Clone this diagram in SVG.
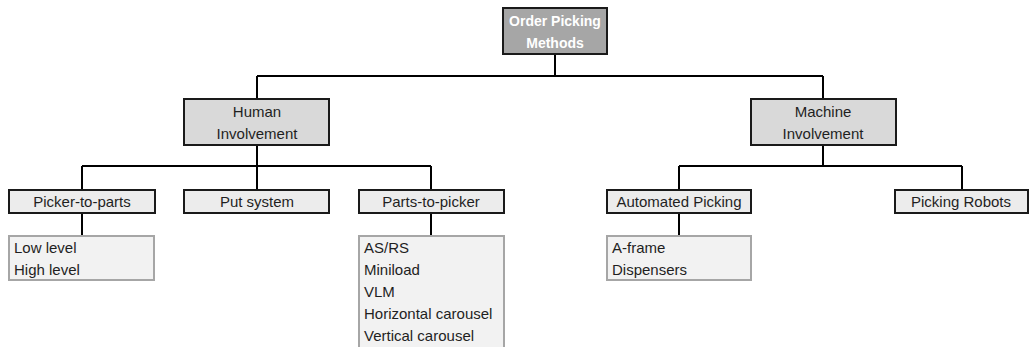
<svg xmlns="http://www.w3.org/2000/svg" width="1032" height="347" viewBox="0 0 1032 347">
<style>
.t{font-family:"Liberation Sans",Arial,sans-serif;font-size:15px;fill:#1f1f1f}
.c{text-anchor:middle}
.root{fill:#a6a6a6;stroke:#1a1a1a;stroke-width:2}
.mid{fill:#d9d9d9;stroke:#1a1a1a;stroke-width:2}
.lvl{fill:#ececec;stroke:#1a1a1a;stroke-width:2}
.lst{fill:#f2f2f2;stroke:#a6a6a6;stroke-width:2}
.rt{font-family:"Liberation Sans",Arial,sans-serif;font-size:14px;font-weight:bold;fill:#ffffff;text-anchor:middle}
.ln{fill:none;stroke:#000;stroke-width:2}
</style>
<rect width="1032" height="347" fill="#ffffff"/>
<g id="connectors">
<path class="ln" d="M555 54V76M257 76H823M257 76V99M823 76V99"/>
<path class="ln" d="M257 145V166M82 166H431M82 166V190M257 166V190M431 166V190"/>
<path class="ln" d="M823 145V166M679 166H962M679 166V190M962 166V190"/>
<path class="ln" d="M82 213V236M431 213V236M679 213V236"/>
</g>
<g id="root">
<rect class="root" x="503" y="8" width="104" height="46"/>
<text class="rt" x="555" y="26">Order Picking</text>
<text class="rt" x="555" y="48">Methods</text>
</g>
<g id="human">
<rect class="mid" x="184" y="99" width="145" height="46"/>
<text class="t c" x="257" y="117">Human</text>
<text class="t c" x="257" y="139">Involvement</text>
</g>
<g id="machine">
<rect class="mid" x="751" y="99" width="145" height="46"/>
<text class="t c" x="823" y="117">Machine</text>
<text class="t c" x="823" y="139">Involvement</text>
</g>
<g id="picker-to-parts">
<rect class="lvl" x="9" y="190" width="146" height="23"/>
<text class="t c" x="82" y="207">Picker-to-parts</text>
</g>
<g id="put-system">
<rect class="lvl" x="184" y="190" width="145" height="23"/>
<text class="t c" x="257" y="207">Put system</text>
</g>
<g id="parts-to-picker">
<rect class="lvl" x="359" y="190" width="145" height="23"/>
<text class="t c" x="431" y="207">Parts-to-picker</text>
</g>
<g id="automated-picking">
<rect class="lvl" x="607" y="190" width="144" height="23"/>
<text class="t c" x="679" y="207">Automated Picking</text>
</g>
<g id="picking-robots">
<rect class="lvl" x="895" y="190" width="133" height="23"/>
<text class="t c" x="961" y="207">Picking Robots</text>
</g>
<g id="picker-list">
<rect class="lst" x="9" y="236" width="145" height="44"/>
<text class="t" x="14" y="253">Low level</text>
<text class="t" x="14" y="275">High level</text>
</g>
<g id="parts-list">
<rect class="lst" x="359" y="236" width="145" height="112"/>
<text class="t" x="364" y="253">AS/RS</text>
<text class="t" x="364" y="275">Miniload</text>
<text class="t" x="364" y="297">VLM</text>
<text class="t" x="364" y="319">Horizontal carousel</text>
<text class="t" x="364" y="341">Vertical carousel</text>
</g>
<g id="automated-list">
<rect class="lst" x="607" y="236" width="144" height="44"/>
<text class="t" x="612" y="253">A-frame</text>
<text class="t" x="612" y="275">Dispensers</text>
</g>
</svg>
